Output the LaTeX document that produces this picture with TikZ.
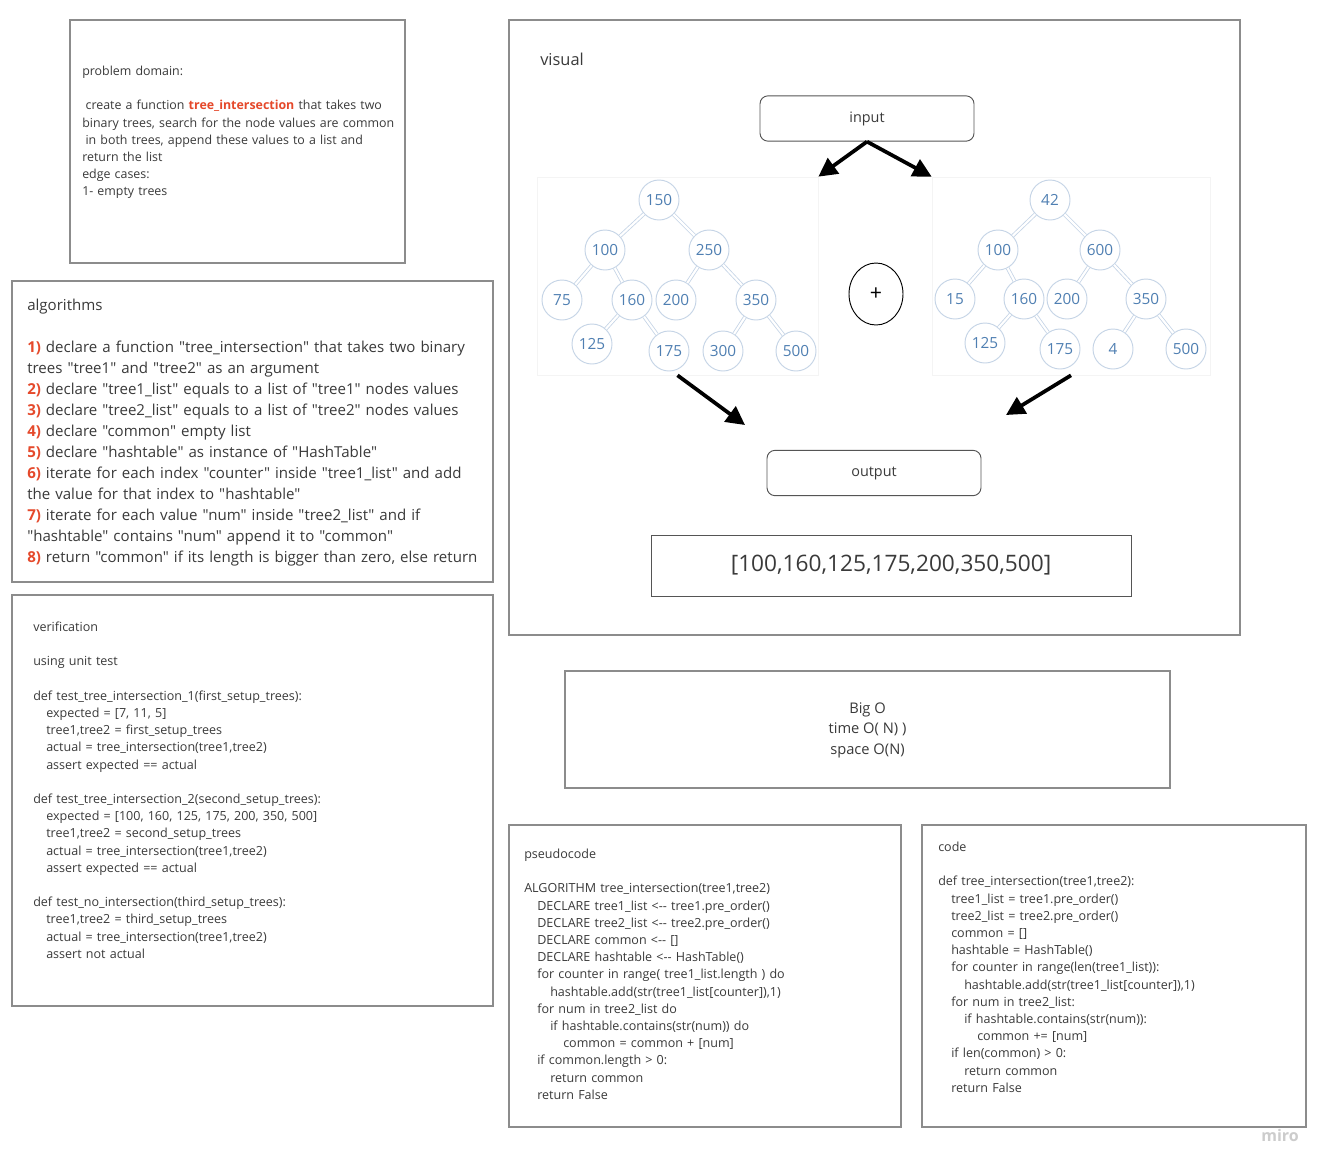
\documentclass[tikz,border=0pt]{standalone}
\usepackage{fontspec}
\setmainfont{Open Sans}
\setmonofont{Open Sans}
\usetikzlibrary{arrows.meta,shapes.geometric}

\definecolor{ink}{HTML}{3A3A3A}
\definecolor{accent}{HTML}{E5492B}
\definecolor{panelgray}{HTML}{8C8C8C}
\definecolor{boxgray}{HTML}{555555}
\definecolor{treeline}{HTML}{C5D4E6}
\definecolor{treetext}{HTML}{4F7FB2}
\definecolor{framegray}{HTML}{F4F4F4}

\newcommand{\lvl}{\hspace*{9.75pt}}
\newcommand{\stepno}[1]{\textbf{\textcolor{accent}{#1}}}

\begin{document}
\begin{tikzpicture}[
    x=0.75pt, y=-0.75pt,
    panel/.style={draw=panelgray, line width=0.9pt, inner sep=0pt},
    txt/.style={anchor=base west, align=left, inner sep=0pt, text=ink,
                text width=420pt, font=\fontsize{9.4}{12.9}\selectfont},
    rbox/.style={draw=boxgray, rounded corners=6pt, line width=0.7pt,
                 minimum width=160.5pt, minimum height=34pt, text=ink,
                 font=\fontsize{10.8}{12}\selectfont},
    tframe/.style={draw=framegray, line width=0.5pt, inner sep=0pt},
    tnode/.style={circle, draw=treeline, fill=white, line width=0.7pt,
                  minimum size=30pt, inner sep=0pt, text=treetext,
                  font=\fontsize{11.5}{12}\selectfont},
    tedge/.style={draw=treeline, line width=0.6pt, double=white,
                  double distance=1.6pt},
    arr/.style={-{Triangle[length=14pt,width=14pt]}, line width=2.8pt, black}
  ]
    \fill[white] (0,0) rectangle (1332,1172);
    \useasboundingbox (0,0) rectangle (1332,1172);

    % panels
    \node[panel, minimum width=251.25pt, minimum height=182.25pt] (prob)   at (237.5,141.5) {};
    \node[panel, minimum width=360.75pt, minimum height=225.75pt] (algo)   at (252.5,431.5) {};
    \node[panel, minimum width=360.75pt, minimum height=308.25pt] (verif)  at (252.5,800.5) {};
    \node[panel, minimum width=548.25pt, minimum height=461.25pt] (visual) at (874.5,327.5) {};
    \node[panel, minimum width=453.75pt, minimum height=87.75pt]  (bigo)   at (867.5,729.5) {};
    \node[panel, minimum width=294pt,    minimum height=226.5pt]  (pseudo) at (705,976) {};
    \node[panel, minimum width=288pt,    minimum height=226.5pt]  (code)   at (1114,976) {};

    \node[txt, font=\fontsize{9.3}{12.9}\selectfont] (probtxt) at (82,75.5) {problem domain:\\[12.9pt]
      \hspace*{2.5pt}create a function \textbf{\textcolor{accent}{tree\_intersection}} that takes two\\
      binary trees, search for the node values are common\\
      \hspace*{2.5pt}in both trees, append these values to a list and\\
      return the list\\
      edge cases:\\
      1- empty trees};

    \node[txt, font=\ttfamily\fontsize{11.3}{15.75}\selectfont] (algotxt) at (27,310) {algorithms\\[15.75pt]
      \stepno{1)} declare a function "tree\_intersection" that takes two binary\\
      trees "tree1" and "tree2" as an argument\\
      \stepno{2)} declare "tree1\_list" equals to a list of "tree1" nodes values\\
      \stepno{3)} declare "tree2\_list" equals to a list of "tree2" nodes values\\
      \stepno{4)} declare "common" empty list\\
      \stepno{5)} declare "hashtable" as instance of "HashTable"\\
      \stepno{6)} iterate for each index "counter" inside "tree1\_list" and add\\
      the value for that index to "hashtable"\\
      \stepno{7)} iterate for each value "num" inside "tree2\_list" and if\\
      "hashtable" contains "num" append it to "common"\\
      \stepno{8)} return "common" if its length is bigger than zero, else return};

    \node[txt] (veriftxt) at (33,631.5) {verification\\[12.9pt]
      using unit test\\[12.9pt]
      def test\_tree\_intersection\_1(first\_setup\_trees):\\
      \lvl expected = [7, 11, 5]\\
      \lvl tree1,tree2 = first\_setup\_trees\\
      \lvl actual = tree\_intersection(tree1,tree2)\\
      \lvl assert expected == actual\\[12.9pt]
      def test\_tree\_intersection\_2(second\_setup\_trees):\\
      \lvl expected = [100, 160, 125, 175, 200, 350, 500]\\
      \lvl tree1,tree2 = second\_setup\_trees\\
      \lvl actual = tree\_intersection(tree1,tree2)\\
      \lvl assert expected == actual\\[12.9pt]
      def test\_no\_intersection(third\_setup\_trees):\\
      \lvl tree1,tree2 = third\_setup\_trees\\
      \lvl actual = tree\_intersection(tree1,tree2)\\
      \lvl assert not actual};

    \node[txt] (pseudotxt) at (524,858.5) {pseudocode\\[12.9pt]
      ALGORITHM tree\_intersection(tree1,tree2)\\
      \lvl DECLARE tree1\_list <{-}{-} tree1.pre\_order()\\
      \lvl DECLARE tree2\_list <{-}{-} tree2.pre\_order()\\
      \lvl DECLARE common <{-}{-} []\\
      \lvl DECLARE hashtable <{-}{-} HashTable()\\
      \lvl for counter in range( tree1\_list.length ) do\\
      \lvl\lvl hashtable.add(str(tree1\_list[counter]),1)\\
      \lvl for num in tree2\_list do\\
      \lvl\lvl if hashtable.contains(str(num)) do\\
      \lvl\lvl\lvl common = common + [num]\\
      \lvl if common.length > 0:\\
      \lvl\lvl return common\\
      \lvl return False};

    \node[txt] (codetxt) at (938,851.5) {code\\[12.9pt]
      def tree\_intersection(tree1,tree2):\\
      \lvl tree1\_list = tree1.pre\_order()\\
      \lvl tree2\_list = tree2.pre\_order()\\
      \lvl common = []\\
      \lvl hashtable = HashTable()\\
      \lvl for counter in range(len(tree1\_list)):\\
      \lvl\lvl hashtable.add(str(tree1\_list[counter]),1)\\
      \lvl for num in tree2\_list:\\
      \lvl\lvl if hashtable.contains(str(num)):\\
      \lvl\lvl\lvl common += [num]\\
      \lvl if len(common) > 0:\\
      \lvl\lvl return common\\
      \lvl return False};

    \node[align=center, text=ink, font=\fontsize{11}{15.4}\selectfont] (bigotxt) at (867.5,730)
      {Big O\\time O( N) )\\space O(N)};

    % visual
    \node[txt, font=\fontsize{12.3}{13}\selectfont] (vistxt) at (540,65) {visual};
    \node[rbox] (input)  at (867,118.5) {input};
    \node[rbox] (output) at (874,473)   {output};
    \node[draw=boxgray, line width=0.7pt, minimum width=360pt, minimum height=45.75pt,
          text=ink, font=\fontsize{17}{20}\selectfont] (result) at (891,565.5)
          {[100,160,125,175,200,350,500]};
    \node[ellipse, draw=black, line width=0.7pt, minimum width=40.5pt, minimum height=46.5pt,
          font=\fontsize{16}{18}\selectfont] (plus) at (876,294) {+};

    \node[tframe, minimum width=210.75pt, minimum height=148.5pt] (tree1) at (677.5,276) {};
    \node[tframe, minimum width=208.5pt,  minimum height=148.5pt] (tree2) at (1071,276) {};

    % first tree
    \node[tnode] (a150) at (659,200) {150};
    \node[tnode] (a100) at (605,250) {100};
    \node[tnode] (a250) at (709,250) {250};
    \node[tnode] (a75)  at (562,300) {75};
    \node[tnode] (a160) at (632,300) {160};
    \node[tnode] (a200) at (676,300) {200};
    \node[tnode] (a350) at (756,300) {350};
    \node[tnode] (a125) at (592,344) {125};
    \node[tnode] (a175) at (669,351) {175};
    \node[tnode] (a300) at (723,351) {300};
    \node[tnode] (a500) at (796,351) {500};

    \draw[tedge] (a150) -- (a100);
    \draw[tedge] (a150) -- (a250);
    \draw[tedge] (a100) -- (a75);
    \draw[tedge] (a100) -- (a160);
    \draw[tedge] (a160) -- (a125);
    \draw[tedge] (a160) -- (a175);
    \draw[tedge] (a250) -- (a200);
    \draw[tedge] (a250) -- (a350);
    \draw[tedge] (a350) -- (a300);
    \draw[tedge] (a350) -- (a500);

    % second tree
    \node[tnode] (b42)  at (1050,200) {42};
    \node[tnode] (b100) at (998,250)  {100};
    \node[tnode] (b600) at (1100,250) {600};
    \node[tnode] (b15)  at (955,299)  {15};
    \node[tnode] (b160) at (1024,299) {160};
    \node[tnode] (b200) at (1067,299) {200};
    \node[tnode] (b350) at (1146,299) {350};
    \node[tnode] (b125) at (985,343)  {125};
    \node[tnode] (b175) at (1060,349) {175};
    \node[tnode] (b4)   at (1113,349) {4};
    \node[tnode] (b500) at (1186,349) {500};

    \draw[tedge] (b42)  -- (b100);
    \draw[tedge] (b42)  -- (b600);
    \draw[tedge] (b100) -- (b15);
    \draw[tedge] (b100) -- (b160);
    \draw[tedge] (b160) -- (b125);
    \draw[tedge] (b160) -- (b175);
    \draw[tedge] (b600) -- (b200);
    \draw[tedge] (b600) -- (b350);
    \draw[tedge] (b350) -- (b4);
    \draw[tedge] (b350) -- (b500);

    \coordinate (out1) at (745,425);
    \coordinate (out2) at (1006,415);

    \draw[arr] (input.south) -- (tree1.north east);
    \draw[arr] (input.south) -- (tree2.north west);
    \draw[arr] (tree1.south) -- (out1);
    \draw[arr] (tree2.south) -- (out2);

    \node[text=black!20, font=\bfseries\fontsize{12}{14}\selectfont] (miro) at (1280,1135) {miro};
  \end{tikzpicture}
\end{document}
